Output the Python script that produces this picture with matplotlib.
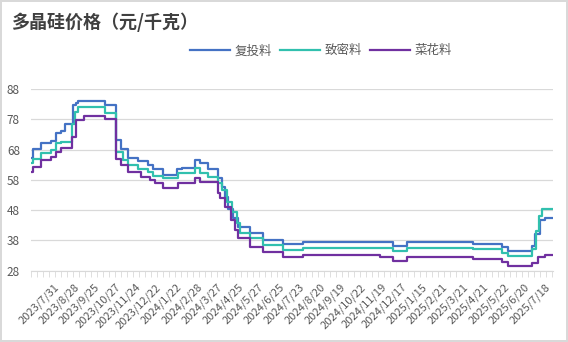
import numpy as np
import matplotlib
matplotlib.use("Agg")
from matplotlib import pyplot as plt

plt.rcParams['font.family'] = ['Noto Sans CJK SC', 'DejaVu Sans']

# 数据：阶梯线的拐点（交易日序号）和对应价格
tick_labels = ['2023/7/31', '2023/8/28', '2023/9/25', '2023/10/27', '2023/11/24',
               '2023/12/22', '2024/1/22', '2024/2/28', '2024/3/27', '2024/4/25',
               '2024/5/27', '2024/6/25', '2024/7/23', '2024/8/20', '2024/9/19',
               '2024/10/22', '2024/11/19', '2024/12/17', '2025/1/15', '2025/2/21',
               '2025/3/21', '2025/4/21', '2025/5/22', '2025/6/20', '2025/7/18']

blue_x = [0, 2, 10, 20, 24, 29, 33, 41, 44, 46, 72, 83, 88, 95, 105, 114, 119, 129, 143, 148,
          160, 165, 173, 183, 187, 190, 192, 197, 202, 214, 227, 246, 266, 354, 367, 432, 460, 466,
          489, 492, 497, 502]
blue_y = [65.1, 68.1, 70.0, 70.9, 73.5, 74.0, 76.6, 82.7, 83.4, 84.0, 82.7, 71.1, 68.1, 65.1,
          64.3, 63.0, 61.5, 59.6, 61.5, 62.0, 64.5, 63.6, 61.5, 58.5, 55.7, 52.2, 48.3, 45.3,
          42.5, 40.3, 38.3, 36.8, 37.4, 36.3, 37.4, 36.8, 35.7, 34.5, 36.3, 40.0, 44.8, 45.5]

teal_x = [0, 2, 10, 20, 24, 29, 40, 43, 46, 72, 83, 90, 95, 105, 114, 119, 129, 144, 160, 165,
          173, 183, 187, 191, 196, 201, 204, 214, 227, 246, 266, 354, 367, 432, 460, 466, 489,
          493, 496, 499]
teal_y = [63.6, 64.9, 66.7, 67.8, 70.0, 70.6, 76.6, 80.5, 82.1, 80.0, 67.3, 64.5, 62.9, 61.5,
          60.7, 59.3, 58.5, 60.1, 62.0, 60.1, 58.8, 57.0, 54.6, 50.8, 47.5, 43.6, 40.3, 38.7,
          36.5, 34.9, 35.5, 34.6, 35.5, 35.1, 33.9, 32.9, 35.0, 41.0, 46.0, 48.3]

purple_x = [0, 2, 10, 20, 24, 29, 40, 44, 52, 72, 83, 88, 95, 107, 116, 121, 129, 144, 160, 165,
            183, 185, 190, 195, 199, 202, 214, 227, 246, 266, 341, 354, 367, 432, 460, 466, 489,
            495, 502]
purple_y = [60.7, 62.3, 64.5, 65.6, 67.3, 68.4, 72.2, 77.7, 79.1, 78.0, 64.9, 62.9, 60.7, 59.0,
            57.9, 56.8, 55.4, 57.0, 58.5, 57.4, 53.5, 51.9, 49.1, 44.7, 41.4, 38.7, 35.7, 34.3,
            32.4, 33.1, 32.4, 31.3, 32.4, 31.9, 31.0, 29.6, 30.4, 32.4, 33.3]

x_end = 510
series = [('复投料', blue_x, blue_y, '#4472C4'),
          ('致密料', teal_x, teal_y, '#31C0AE'),
          ('菜花料', purple_x, purple_y, '#7030A0')]

fig = plt.figure(figsize=(5.68, 3.42), dpi=100)
fig.patch.set_edgecolor('#d9d9d9')
fig.patch.set_linewidth(1.5)
ax = fig.add_axes([0.0546, 0.2085, 0.919, 0.5313])

for name, xs, ys, c in series:
    ax.plot(xs + [x_end], ys + [ys[-1]], drawstyle='steps-post', color=c, lw=1.6, label=name)

ax.set_xlim(0, x_end)
ax.set_ylim(28, 88)
ax.set_yticks(np.arange(28, 89, 10))
ax.grid(axis='y', color='#d9d9d9', lw=0.9)
ax.set_axisbelow(True)
for s in ['top', 'right', 'left']:
    ax.spines[s].set_visible(False)
ax.spines['bottom'].set_color('#d9d9d9')
ax.tick_params(axis='y', length=0, pad=8, labelsize=8.5, labelcolor='#595959')

ax.set_xticks(np.arange(22, 22 + 20 * len(tick_labels), 20))
ax.set_xticklabels(tick_labels, rotation=45, ha='right', va='top', rotation_mode='anchor',
                   fontsize=8, color='#595959')
ax.tick_params(axis='x', length=0, pad=8)
ax.set_xticks(np.arange(0, x_end + 1, 5.85), minor=True)
ax.tick_params(axis='x', which='minor', length=4, color='#d9d9d9', direction='out')

fig.text(0.02, 0.935, '多晶硅价格（元/千克）', fontsize=13, fontweight='bold', color='#404040',
         va='center')
fig.legend(loc='center', bbox_to_anchor=(0.565, 0.851), ncol=3, frameon=False, fontsize=9,
           handlelength=3.2, columnspacing=0.6, handletextpad=0.4, labelcolor='#595959')

fig.savefig('out.png', dpi=100)
